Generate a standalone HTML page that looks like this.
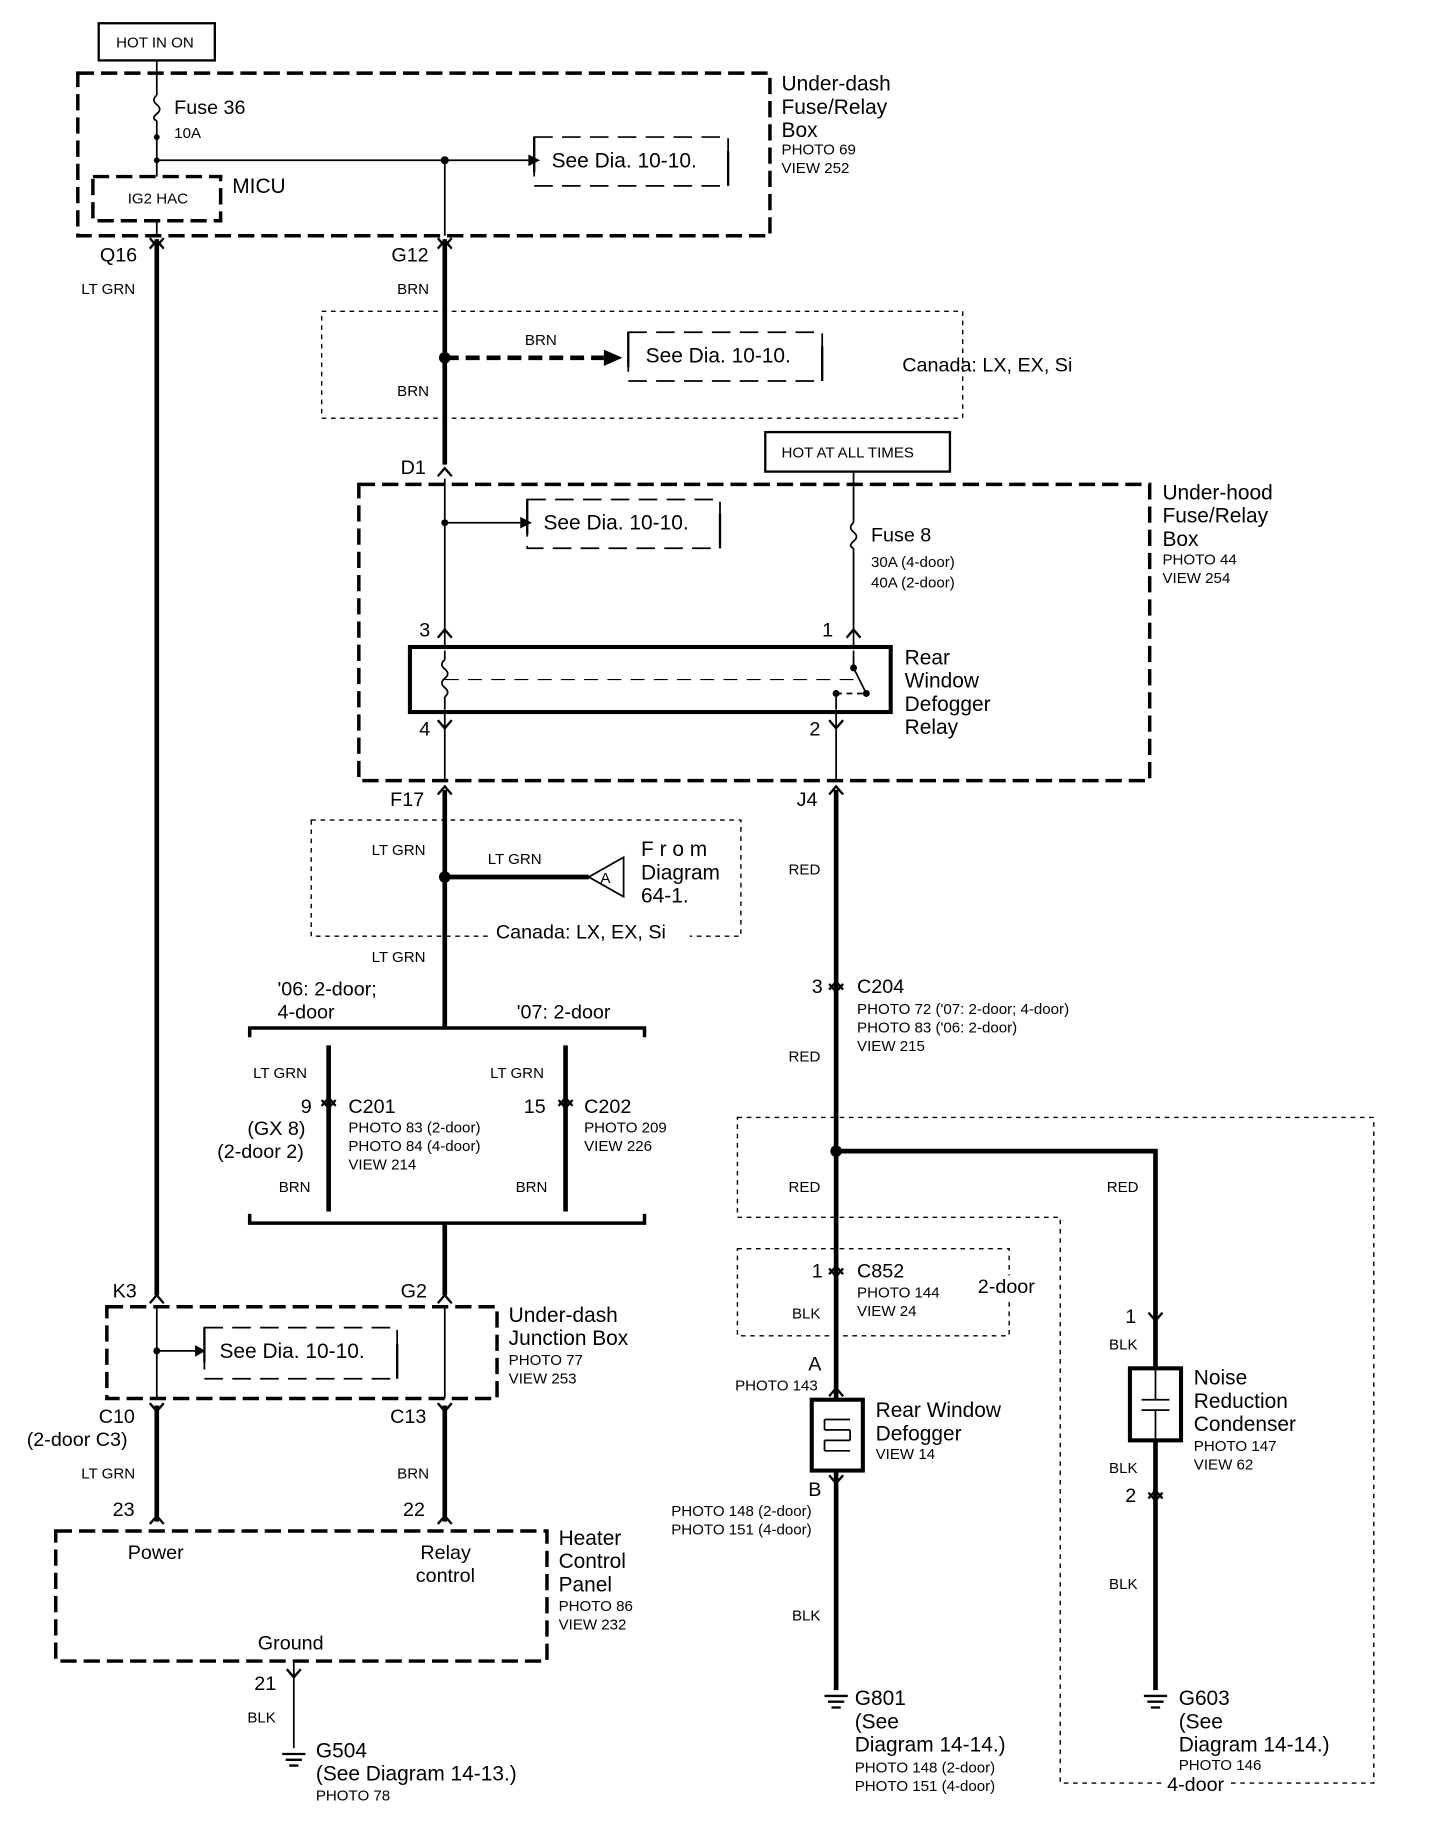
<!DOCTYPE html>
<html><head><meta charset="utf-8"><style>
html,body{margin:0;padding:0;background:#fff;}
svg{display:block;}
text{font-family:"Liberation Sans",sans-serif;fill:#000;}
.t18{font-size:18px}.t17{font-size:17px}.t13{font-size:13px}.t15{font-size:15px}
</style></head><body>
<svg width="1440" height="1826" viewBox="0 0 1240 1572" preserveAspectRatio="none" xmlns="http://www.w3.org/2000/svg">
<g fill="none" stroke="#000">
<rect x="85" y="20" width="100" height="32" stroke-width="2"/>
<rect x="659" y="372" width="159" height="34" stroke-width="2"/>
<rect x="67" y="63" width="596" height="140" stroke-width="3" stroke-dasharray="14 6"/>
<rect x="80" y="152" width="110" height="38" stroke-width="3" stroke-dasharray="14 6"/>
<rect x="309" y="417" width="681" height="255" stroke-width="3" stroke-dasharray="14 6"/>
<rect x="92" y="1125" width="336" height="79" stroke-width="3" stroke-dasharray="14 6"/>
<rect x="48" y="1318" width="423" height="112" stroke-width="3" stroke-dasharray="14 6"/>
<rect x="277" y="268" width="552" height="92" stroke-width="1.2" stroke-dasharray="4 4"/>
<rect x="268" y="706" width="370" height="100" stroke-width="1.2" stroke-dasharray="4 4"/>
<rect x="635" y="1075" width="234" height="75" stroke-width="1.2" stroke-dasharray="4 4"/>
<path d="M635 962 H1183 V1535 H913 V1048 H635 Z" stroke-width="1.2" stroke-dasharray="4 4"/>
<g stroke-width="1.5" stroke-dasharray="16 8">
<rect x="460" y="118" width="167" height="42"/>
<rect x="541" y="286" width="167" height="42"/>
<rect x="454" y="430" width="166" height="42"/>
<rect x="176" y="1143" width="166" height="44"/>
</g>
<g stroke-width="2">
<line x1="460" y1="118" x2="460" y2="148"/><line x1="627" y1="130" x2="627" y2="160"/>
<line x1="541" y1="286" x2="541" y2="316"/><line x1="708" y1="298" x2="708" y2="328"/>
<line x1="454" y1="430" x2="454" y2="460"/><line x1="620" y1="442" x2="620" y2="472"/>
<line x1="176" y1="1143" x2="176" y2="1173"/><line x1="342" y1="1157" x2="342" y2="1187"/>
</g>
<g stroke-width="1.5">
<line x1="135" y1="52" x2="135" y2="82"/>
<path d="M135 82 q-5 4 0 8 q5 4 0 8 q-5 4 0 6"/>
<line x1="135" y1="104" x2="135" y2="152"/>
<line x1="135" y1="190" x2="135" y2="203"/>
<line x1="135" y1="138" x2="455" y2="138"/>
<line x1="383" y1="138" x2="383" y2="203"/>
<line x1="383" y1="412" x2="383" y2="557"/>
<line x1="383" y1="450" x2="448" y2="450"/>
<line x1="735" y1="406" x2="735" y2="450"/>
<path d="M735 450 q-5 4 0 8 q5 4 0 8 q-5 4 0 6"/>
<line x1="735" y1="472" x2="735" y2="557"/>
<line x1="383" y1="613" x2="383" y2="672"/>
<line x1="720" y1="613" x2="720" y2="672"/>
<line x1="383" y1="560" x2="383" y2="568"/>
<path d="M383 568 q-5 4 0 8 q5 4 0 8 q-5 4 0 8 q5 4 0 8"/>
<line x1="383" y1="600" x2="383" y2="611"/>
<line x1="383" y1="585" x2="735" y2="585" stroke-dasharray="12 8" stroke-width="1"/>
<line x1="735" y1="560" x2="735" y2="575"/>
<line x1="735" y1="575" x2="746" y2="597"/>
<line x1="720" y1="597" x2="746" y2="597" stroke-dasharray="5 4"/>
<line x1="720" y1="597" x2="720" y2="611"/>
<line x1="135" y1="1125" x2="135" y2="1204"/>
<line x1="383" y1="1125" x2="383" y2="1204"/>
<line x1="135" y1="1163" x2="168" y2="1163"/>
<line x1="253" y1="1430" x2="253" y2="1505"/>
</g>
<rect x="353" y="557" width="414" height="56" stroke-width="3.5"/>
<g stroke-width="4">
<line x1="135" y1="206" x2="135" y2="1115"/>
<line x1="383" y1="206" x2="383" y2="400"/>
<line x1="383" y1="680" x2="383" y2="885"/>
<line x1="383" y1="755" x2="507" y2="755"/>
<line x1="283" y1="900" x2="283" y2="1043"/>
<line x1="487" y1="900" x2="487" y2="1043"/>
<line x1="383" y1="1053" x2="383" y2="1115"/>
<line x1="720" y1="680" x2="720" y2="1205"/>
<line x1="720" y1="1266" x2="720" y2="1455"/>
<path d="M720 991 H995 V1178"/>
<line x1="995" y1="1240" x2="995" y2="1455"/>
<line x1="135" y1="1210" x2="135" y2="1310"/>
<line x1="383" y1="1210" x2="383" y2="1310"/>
<line x1="383" y1="308" x2="520" y2="308" stroke-dasharray="12 6"/>
</g>
<path d="M215 893 V885 H555 V893" stroke-width="3"/>
<path d="M215 1045 V1053 H555 V1045" stroke-width="3"/>
<rect x="699" y="1205" width="44" height="61" stroke-width="3.5"/>
<path d="M710 1222 h22 M710 1231 h22 M710 1240 h22 M710 1249 h22 M710 1222 v9 M732 1231 v9 M710 1240 v9" stroke-width="1.5"/>
<rect x="973" y="1178" width="44" height="62" stroke-width="3.5"/>
<path d="M983 1205 h24 M983 1214 h24 M995 1178 v27 M995 1214 v26" stroke-width="1.5"/>
<path d="M537 738 L507 755 L537 772 Z" stroke-width="1.5" fill="#fff"/>
<g stroke-width="2">
<path d="M129 214 L135 207 L141 214 M129 205 L135 212 L141 205"/>
<path d="M377 214 L383 207 L389 214 M377 205 L383 212 L389 205"/>
<path d="M377 410 L383 403 L389 410"/>
<path d="M377 549 L383 542 L389 549 M729 549 L735 542 L741 549"/>
<path d="M377 620 L383 627 L389 620 M714 620 L720 627 L726 620"/>
<path d="M377 684 L383 677 L389 684 M714 684 L720 677 L726 684"/>
<path d="M714 852 L720 845 L726 852 M714 847 L720 854 L726 847"/>
<path d="M277 952 L283 945 L289 952 M277 947 L283 954 L289 947"/>
<path d="M481 952 L487 945 L493 952 M481 947 L487 954 L493 947"/>
<path d="M714 1097 L720 1090 L726 1097 M714 1092 L720 1099 L726 1092"/>
<path d="M989 1130 L995 1137 L1001 1130"/>
<path d="M989 1290 L995 1283 L1001 1290 M989 1285 L995 1292 L1001 1285"/>
<path d="M129 1122 L135 1115 L141 1122 M377 1122 L383 1115 L389 1122"/>
<path d="M129 1208 L135 1215 L141 1208 M377 1208 L383 1215 L389 1208"/>
<path d="M129 1312 L135 1305 L141 1312 M377 1312 L383 1305 L389 1312"/>
<path d="M247 1437 L253 1444 L259 1437"/>
<path d="M714 1202 L720 1195 L726 1202 M714 1270 L720 1277 L726 1270"/>
</g>
<g stroke-width="2">
<path d="M243 1510 h20 M246 1515 h14 M249 1520 h8"/>
<path d="M710 1460 h20 M713 1465 h14 M716 1470 h8"/>
<path d="M985 1460 h20 M988 1465 h14 M991 1470 h8"/>
</g>
</g>
<g fill="#000">
<polygon points="455,133 465,138 455,143"/>
<polygon points="448,445 458,450 448,455"/>
<polygon points="520,301 536,308 520,315"/>
<polygon points="168,1158 177,1163 168,1168"/>
<circle cx="135" cy="118" r="2.5"/><circle cx="135" cy="138" r="2.5"/>
<circle cx="383" cy="138" r="3.5"/><circle cx="383" cy="308" r="5"/>
<circle cx="383" cy="755" r="5"/><circle cx="720" cy="991" r="5"/>
<circle cx="383" cy="450" r="3"/><circle cx="135" cy="1163" r="3"/>
<circle cx="735" cy="575" r="3"/><circle cx="746" cy="597" r="3"/><circle cx="720" cy="597" r="3"/>
</g>
<!-- white backgrounds behind overlapping labels -->
<g fill="#fff">
<rect x="424" y="792" width="170" height="18"/>
<rect x="840" y="1098" width="60" height="20"/>
<rect x="1002" y="1528" width="56" height="18"/>
</g>
<text x="100" y="41" class="t13">HOT IN ON</text>
<text x="673" y="394" class="t13">HOT AT ALL TIMES</text>
<text x="150" y="98" class="t17">Fuse 36</text><text x="150" y="119" class="t13">10A</text>
<text x="110" y="175" class="t13">IG2 HAC</text><text x="200" y="166" class="t18">MICU</text>
<text x="475" y="144" class="t18">See Dia. 10-10.</text>
<text x="556" y="312" class="t18">See Dia. 10-10.</text>
<text x="468" y="456" class="t18">See Dia. 10-10.</text>
<text x="189" y="1169" class="t18">See Dia. 10-10.</text>
<text x="673" y="78" class="t18">Under-dash</text><text x="673" y="98" class="t18">Fuse/Relay</text><text x="673" y="118" class="t18">Box</text>
<text x="673" y="133" class="t13">PHOTO 69</text><text x="673" y="149" class="t13">VIEW 252</text>
<text x="86" y="225" class="t17">Q16</text><text x="337" y="225" class="t17">G12</text>
<text x="70" y="253" class="t13">LT GRN</text><text x="342" y="253" class="t13">BRN</text>
<text x="452" y="297" class="t13">BRN</text><text x="342" y="341" class="t13">BRN</text>
<text x="777" y="320" class="t17">Canada: LX, EX, Si</text>
<text x="345" y="408" class="t17">D1</text>
<text x="1001" y="430" class="t18">Under-hood</text><text x="1001" y="450" class="t18">Fuse/Relay</text><text x="1001" y="470" class="t18">Box</text>
<text x="1001" y="486" class="t13">PHOTO 44</text><text x="1001" y="502" class="t13">VIEW 254</text>
<text x="750" y="466" class="t17">Fuse 8</text><text x="750" y="488" class="t13">30A (4-door)</text><text x="750" y="506" class="t13">40A (2-door)</text>
<text x="361" y="548" class="t17">3</text><text x="708" y="548" class="t17">1</text>
<text x="361" y="633" class="t17">4</text><text x="697" y="633" class="t17">2</text>
<text x="779" y="572" class="t18">Rear</text><text x="779" y="592" class="t18">Window</text><text x="779" y="612" class="t18">Defogger</text><text x="779" y="632" class="t18">Relay</text>
<text x="336" y="694" class="t17">F17</text><text x="686" y="694" class="t17">J4</text>
<text x="320" y="736" class="t13">LT GRN</text><text x="420" y="744" class="t13">LT GRN</text><text x="320" y="828" class="t13">LT GRN</text>
<text x="517" y="760" class="t13">A</text>
<text x="552" y="737" class="t18" letter-spacing="5">From</text><text x="552" y="757" class="t18">Diagram</text><text x="552" y="777" class="t18">64-1.</text>
<text x="427" y="808" class="t17">Canada: LX, EX, Si</text>
<text x="679" y="753" class="t13">RED</text><text x="679" y="914" class="t13">RED</text>
<text x="239" y="857" class="t17">'06: 2-door;</text><text x="239" y="877" class="t17">4-door</text><text x="445" y="877" class="t17">'07: 2-door</text>
<text x="218" y="928" class="t13">LT GRN</text><text x="422" y="928" class="t13">LT GRN</text>
<text x="259" y="958" class="t17">9</text><text x="300" y="958" class="t17">C201</text>
<text x="213" y="977" class="t17">(GX 8)</text><text x="187" y="997" class="t17">(2-door 2)</text>
<text x="300" y="975" class="t13">PHOTO 83 (2-door)</text><text x="300" y="991" class="t13">PHOTO 84 (4-door)</text><text x="300" y="1007" class="t13">VIEW 214</text>
<text x="451" y="958" class="t17">15</text><text x="503" y="958" class="t17">C202</text>
<text x="503" y="975" class="t13">PHOTO 209</text><text x="503" y="991" class="t13">VIEW 226</text>
<text x="240" y="1026" class="t13">BRN</text><text x="444" y="1026" class="t13">BRN</text>
<text x="699" y="855" class="t17">3</text><text x="738" y="855" class="t17">C204</text>
<text x="738" y="873" class="t13">PHOTO 72 ('07: 2-door; 4-door)</text><text x="738" y="889" class="t13">PHOTO 83 ('06: 2-door)</text><text x="738" y="905" class="t13">VIEW 215</text>
<text x="679" y="1026" class="t13">RED</text><text x="953" y="1026" class="t13">RED</text>
<text x="699" y="1100" class="t17">1</text><text x="738" y="1100" class="t17">C852</text>
<text x="738" y="1117" class="t13">PHOTO 144</text><text x="738" y="1133" class="t13">VIEW 24</text>
<text x="682" y="1135" class="t13">BLK</text><text x="842" y="1113" class="t17">2-door</text>
<text x="696" y="1180" class="t17">A</text><text x="633" y="1197" class="t13">PHOTO 143</text>
<text x="754" y="1220" class="t18">Rear Window</text><text x="754" y="1240" class="t18">Defogger</text><text x="754" y="1256" class="t13">VIEW 14</text>
<text x="696" y="1288" class="t17">B</text>
<text x="578" y="1305" class="t13">PHOTO 148 (2-door)</text><text x="578" y="1321" class="t13">PHOTO 151 (4-door)</text>
<text x="682" y="1395" class="t13">BLK</text>
<text x="736" y="1468" class="t18">G801</text><text x="736" y="1488" class="t18">(See</text><text x="736" y="1508" class="t18">Diagram 14-14.)</text>
<text x="736" y="1526" class="t13">PHOTO 148 (2-door)</text><text x="736" y="1542" class="t13">PHOTO 151 (4-door)</text>
<text x="969" y="1139" class="t17">1</text><text x="955" y="1162" class="t13">BLK</text>
<text x="1028" y="1192" class="t18">Noise</text><text x="1028" y="1212" class="t18">Reduction</text><text x="1028" y="1232" class="t18">Condenser</text>
<text x="1028" y="1249" class="t13">PHOTO 147</text><text x="1028" y="1265" class="t13">VIEW 62</text>
<text x="955" y="1268" class="t13">BLK</text><text x="969" y="1293" class="t17">2</text><text x="955" y="1368" class="t13">BLK</text>
<text x="1015" y="1468" class="t18">G603</text><text x="1015" y="1488" class="t18">(See</text><text x="1015" y="1508" class="t18">Diagram 14-14.)</text>
<text x="1015" y="1524" class="t13">PHOTO 146</text><text x="1005" y="1542" class="t17">4-door</text>
<text x="97" y="1117" class="t17">K3</text><text x="345" y="1117" class="t17">G2</text>
<text x="438" y="1138" class="t18">Under-dash</text><text x="438" y="1158" class="t18">Junction Box</text>
<text x="438" y="1175" class="t13">PHOTO 77</text><text x="438" y="1191" class="t13">VIEW 253</text>
<text x="85" y="1225" class="t17">C10</text><text x="23" y="1245" class="t17">(2-door C3)</text><text x="336" y="1225" class="t17">C13</text>
<text x="70" y="1273" class="t13">LT GRN</text><text x="342" y="1273" class="t13">BRN</text>
<text x="97" y="1305" class="t17">23</text><text x="347" y="1305" class="t17">22</text>
<text x="110" y="1342" class="t17">Power</text><text x="362" y="1342" class="t17">Relay</text><text x="358" y="1362" class="t17">control</text>
<text x="222" y="1420" class="t17">Ground</text>
<text x="481" y="1330" class="t18">Heater</text><text x="481" y="1350" class="t18">Control</text><text x="481" y="1370" class="t18">Panel</text>
<text x="481" y="1387" class="t13">PHOTO 86</text><text x="481" y="1403" class="t13">VIEW 232</text>
<text x="219" y="1455" class="t17">21</text><text x="213" y="1483" class="t13">BLK</text>
<text x="272" y="1513" class="t18">G504</text><text x="272" y="1533" class="t18">(See Diagram 14-13.)</text><text x="272" y="1550" class="t13">PHOTO 78</text>
</svg>
</body></html>
